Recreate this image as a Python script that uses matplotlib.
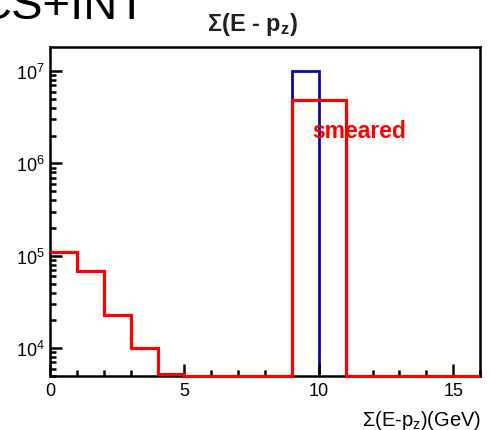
import matplotlib
matplotlib.use('Agg')
import matplotlib.pyplot as plt
import numpy as np

plt.rcParams['font.family'] = ['Liberation Sans', 'DejaVu Sans']
plt.rcParams['mathtext.fontset'] = 'custom'
plt.rcParams['mathtext.rm'] = 'Liberation Sans'
plt.rcParams['mathtext.it'] = 'Liberation Sans'
plt.rcParams['mathtext.bf'] = 'Liberation Sans:bold'

# bin edges, 1 GeV wide
edges = np.arange(0, 17, 1)
# smeared histogram (red)
smeared = [1.1e5, 6.9e4, 2.3e4, 1.0e4, 5.2e3, 0, 0, 0, 0, 4.9e6, 4.9e6, 0, 0, 0, 0, 0]
# true histogram (blue), only one bin filled
true_edges = [9, 10]
true_vals = [1.0e7]

ymin, ymax = 5.0e3, 1.82e7
xticks = [0, 5, 10, 15]
yticks = [1e4, 1e5, 1e6, 1e7]
ytick_labels = ['$10^{4}$', '$10^{5}$', '$10^{6}$', '$10^{7}$']

fig = plt.figure(figsize=(4.9, 4.31), dpi=100)
ax = fig.add_axes([50 / 490, 1 - 377 / 431, 430 / 490, 329 / 431])

ax.stairs(true_vals, true_edges, baseline=ymin, color='#0a0aa8', linewidth=2.0, clip_on=False)
# like ROOT: empty bins are drawn along the frame bottom
red_draw = np.maximum(np.array(smeared), ymin)
ax.stairs(red_draw, edges, baseline=None, color='#ff0000', linewidth=2.3, clip_on=False, zorder=3)

ax.set_yscale('log')
ax.set_xlim(0, 16)
ax.set_ylim(ymin, ymax)
ax.set_xticks(xticks)
ax.set_xticks(np.arange(0, 17, 1), minor=True)
ax.set_yticks(yticks)
ax.set_yticklabels(ytick_labels)
ax.yaxis.set_minor_locator(matplotlib.ticker.LogLocator(base=10, subs=np.arange(2, 10)))
ax.yaxis.set_minor_formatter(matplotlib.ticker.NullFormatter())
ax.tick_params(which='both', direction='in', top=False, right=False, width=1.8, labelsize=13)
ax.tick_params(which='major', length=8.5, pad=4)
ax.tick_params(which='minor', length=4)
for s in ax.spines.values():
    s.set_linewidth(1.8)

ax.text(312 / 490, 1 - 132 / 431, 'smeared', transform=fig.transFigure, color='#ff0000',
        fontsize=16.5, fontweight='bold', va='center', ha='left')

fig.text(253 / 490, 1 - 24 / 431, r'$\mathbf{\Sigma}$(E - p$_{\mathregular{z}}$)', fontsize=17,
         fontweight='bold', color='#222222', ha='center', va='center')
fig.text(481 / 490, 1 - 421 / 431, r'$\Sigma$(E-p$_{\mathregular{z}}$)(GeV)', fontsize=14.5,
         ha='right', va='center')
fig.text(-22 / 490, 1 - 18.7 / 431, 'CS+INT', fontsize=34, ha='left', va='baseline')

fig.savefig('out.png', dpi=100)
